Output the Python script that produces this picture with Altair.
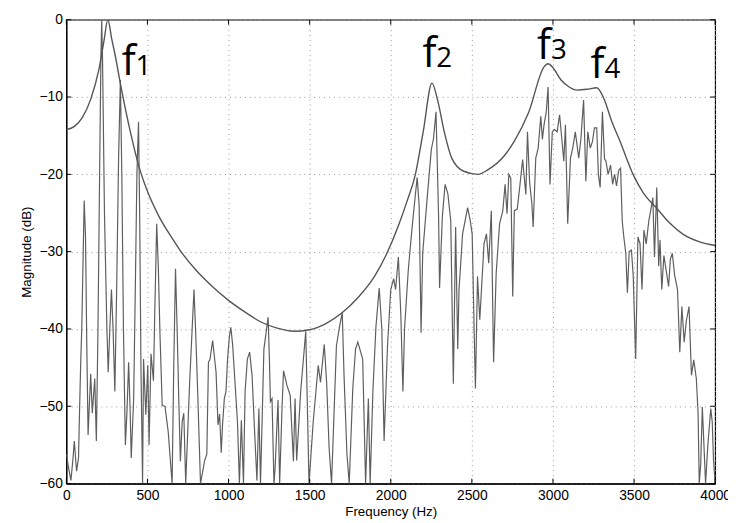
import altair as alt
import pandas as pd

# ---- harmonic spectrum (Hz, dB) ----
spec_f = [0, 14, 28, 40, 49, 63, 75, 82, 89, 95, 110, 118, 126, 134, 150, 160, 175, 185, 195, 205,
          213, 218, 223, 235, 250, 258, 268, 278, 288, 299, 310, 322, 333, 342, 352, 364, 374, 384, 394, 400,
          415, 425, 435, 445, 452, 460, 470, 476, 490, 502, 510, 522, 537, 545, 557, 567, 577, 591, 608, 628,
          652, 662, 673, 683, 693, 703, 714, 724, 736, 760, 787, 800, 811, 827, 852, 866, 876, 885, 902, 923,
          935, 945, 955, 963, 974, 984, 994, 1005, 1014, 1025, 1040, 1055, 1067, 1079, 1092, 1102, 1116, 1130, 1145, 1160,
          1175, 1187, 1197, 1218, 1244, 1252, 1258, 1268, 1280, 1287, 1305, 1315, 1330, 1339, 1360, 1380, 1400, 1410, 1420, 1445,
          1476, 1486, 1496, 1522, 1553, 1567, 1590, 1605, 1620, 1635, 1665, 1685, 1701, 1712, 1730, 1744, 1766, 1783, 1797, 1827,
          1845, 1862, 1873, 1890, 1909, 1929, 1945, 1959, 1980, 2000, 2018, 2030, 2047, 2062, 2075, 2085, 2108, 2132, 2150, 2163,
          2175, 2187, 2197, 2224, 2250, 2264, 2279, 2295, 2301, 2318, 2335, 2352, 2370, 2386, 2400, 2413, 2421, 2443, 2474, 2490,
          2502, 2514, 2522, 2535, 2549, 2575, 2590, 2604, 2620, 2634, 2650, 2671, 2691, 2705, 2717, 2728, 2740, 2752, 2762, 2780,
          2797, 2813, 2833, 2843, 2856, 2870, 2878, 2894, 2909, 2925, 2935, 2945, 2959, 2970, 2982, 2996, 3010, 3026, 3041, 3055,
          3067, 3077, 3091, 3108, 3122, 3138, 3159, 3172, 3189, 3203, 3215, 3230, 3243, 3256, 3270, 3280, 3291, 3305, 3318, 3327,
          3340, 3355, 3368, 3380, 3392, 3405, 3417, 3427, 3437, 3449, 3459, 3470, 3484, 3495, 3510, 3524, 3537, 3549, 3561, 3575,
          3591, 3606, 3616, 3626, 3640, 3652, 3660, 3671, 3684, 3695, 3713, 3724, 3736, 3750, 3768, 3782, 3795, 3809, 3822, 3839,
          3854, 3868, 3884, 3895, 3902, 3911, 3921, 3941, 3955, 3973, 3982, 3990, 4000]
spec_db = [-56.2, -58, -59.6, -57, -54.5, -58.4, -56.7, -50, -44, -40, -23.4, -28, -42, -53.7, -45.8, -50.9, -46.4, -54.5, -40, -20,
           -5, 0, -5, -25, -40, -45.6, -40, -34.9, -40, -48.1, -35, -18, -7.8, -20, -40, -55, -50.5, -44.3, -51.1, -56.7,
           -49, -35, -20, -13.2, -25, -45, -60, -43.9, -51.1, -44.7, -55, -43.2, -46.7, -38, -26.4, -32, -40.5, -49.9, -50, -53.3,
           -60, -45, -32.2, -40, -49, -57.1, -52, -50.9, -60, -47, -34.9, -42, -49, -60, -57.1, -56.2, -44.3, -44, -41.5, -45.6,
           -52.4, -51, -56, -52.4, -49, -48.1, -43.9, -41, -39.8, -42, -47, -52, -60, -51.8, -60, -48.1, -43.9, -43, -46, -53,
           -59.6, -50.3, -60, -42.6, -38.5, -44, -49.4, -49, -60, -58, -49.2, -60, -50, -45.4, -47.3, -48.6, -57.1, -49, -57, -48,
           -40.3, -50, -60, -52, -44.7, -46.9, -42, -47, -55.4, -60, -42.2, -39.6, -37.9, -46, -56.2, -60, -47.7, -42.6, -41.7, -43.9,
           -60, -49, -60, -48, -39.6, -34.7, -40, -54.5, -42.2, -34.9, -33.5, -34.9, -30.7, -38, -48.1, -40, -32.4, -26.8, -23, -20.4,
           -24, -40.5, -30.2, -23.2, -16.8, -15.3, -11.9, -25.5, -34.7, -25.5, -21.3, -22.5, -26, -47.1, -26.8, -42.6, -34.9, -27.7, -24.3, -26,
           -27.7, -40, -47.7, -33.2, -38.8, -29, -27.7, -31.5, -24.7, -44.3, -32.8, -26.4, -24.7, -21.3, -25.1, -20, -20.5, -35.8, -24.7, -24.5,
           -21.3, -18.1, -22.6, -14.5, -21, -23.8, -26.8, -17.9, -16.6, -12.5, -15.5, -13.6, -11.9, -8.7, -21.3, -14.5, -14.2, -14.5, -12.3, -15.5,
           -18.3, -13.6, -26.4, -17.9, -16.6, -14.5, -17.9, -15.5, -10.4, -20.9, -14.5, -16.6, -15.8, -14, -14, -20, -21.7, -11.9, -18, -18.3,
           -20, -18.8, -21.3, -20, -21.5, -19.5, -19.2, -26, -28.1, -30.2, -35.3, -30, -29.8, -33.2, -43.9, -28.1, -29, -34.9, -27.2, -29,
           -26, -24.3, -23, -30.7, -21.7, -31.9, -28.5, -34.9, -30.5, -32, -34.5, -31, -30.2, -33, -34.9, -43, -37.1, -41.7, -39, -37.1,
           -46, -44, -46.4, -51, -60, -57.5, -50.1, -60, -55, -50.3, -52, -57, -60]

# ---- spectral envelope (Hz, dB) ----
env_f = [0, 50, 100, 150, 200, 230, 256, 280, 300, 340, 400, 445, 500, 570, 650, 700, 800, 900, 1000, 1100,
         1200, 1300, 1400, 1500, 1600, 1700, 1800, 1900, 1970, 2050, 2100, 2152, 2200, 2254, 2290, 2330, 2376, 2450, 2538, 2600,
         2700, 2762, 2850, 2945, 2970, 3000, 3050, 3100, 3148, 3210, 3270, 3320, 3360, 3413, 3494, 3560, 3636, 3720, 3799, 3900, 4000]
env_db = [-14.2, -13.8, -12.6, -10.3, -6.5, -3, 0, -2.5, -4.5, -9, -15, -18.8, -22.2, -25.4, -28.2, -29.8, -32.4, -34.5, -36.3, -37.8,
          -39.1, -39.9, -40.3, -40.1, -39.3, -37.9, -35.9, -33.2, -30.5, -26.5, -23.5, -20, -14.5, -8.2, -10.5, -14.5, -17.9, -19.6, -20, -19.4,
          -17.6, -15.7, -12, -6.1, -5.7, -6.2, -7.8, -8.7, -9.1, -9, -8.8, -10.5, -13, -15.7, -20, -22.5, -24.3, -26.3, -27.7, -28.7, -29.2]

# ---- formant annotations ----
ann_digit = ["1", "2", "3", "4"]
ann_f = [341, 2195, 2902, 3232]
ann_db = [-7.2, -6.1, -5.1, -7.5]

x_ticks = [0, 500, 1000, 1500, 2000, 2500, 3000, 3500, 4000]
y_ticks = [0, -10, -20, -30, -40, -50, -60]

W, H = 656, 469

spec = pd.DataFrame({"f": spec_f, "db": spec_db})
env = pd.DataFrame({"f": env_f, "db": env_db})
ann = pd.DataFrame({"f": ann_f, "db": ann_db, "d": ann_digit, "letter": ["f"] * 4})
xt = pd.DataFrame({"f": x_ticks})
yt = pd.DataFrame({"db": y_ticks})

xs = alt.Scale(domain=[0, 4000], nice=False, zero=False)
ys = alt.Scale(domain=[-60, 0], nice=False, zero=False)

grid_dash = [1, 4]
xaxis = alt.Axis(values=x_ticks, format="d", title="Frequency (Hz)", ticks=False, grid=True,
                 gridColor="#9a9a9a", gridDash=grid_dash, gridWidth=1,
                 labelFlush=False, labelOverlap=False, labelPadding=5, titlePadding=2,
                 domainColor="black")
yaxis = alt.Axis(values=y_ticks, format="d", title="Magnitude (dB)", ticks=False, grid=True,
                 gridColor="#9a9a9a", gridDash=grid_dash, gridWidth=1,
                 labelOverlap=False, labelPadding=4, titlePadding=5,
                 domainColor="black")

spec_line = alt.Chart(spec).mark_line(color="#5e5e5e", strokeWidth=1.2, clip=True).encode(
    x=alt.X("f:Q", scale=xs, axis=xaxis),
    y=alt.Y("db:Q", scale=ys, axis=yaxis),
)
env_line = alt.Chart(env).mark_line(color="#555555", strokeWidth=1.4, clip=True,
                                    interpolate="monotone").encode(
    x=alt.X("f:Q", scale=xs),
    y=alt.Y("db:Q", scale=ys),
)

letters = alt.Chart(ann).mark_text(font="Open Sans", fontSize=42, align="left", baseline="alphabetic",
                                    color="black").encode(
    x=alt.X("f:Q", scale=xs), y=alt.Y("db:Q", scale=ys), text="letter:N")
digits = alt.Chart(ann).mark_text(font="Open Sans", fontSize=28, align="left", baseline="alphabetic",
                                   color="black", dx=14).encode(
    x=alt.X("f:Q", scale=xs), y=alt.Y("db:Q", scale=ys), text="d:N")

tick_len = 5
tb = alt.Chart(xt).mark_rule(color="black", strokeWidth=1).encode(
    x=alt.X("f:Q", scale=xs), y=alt.value(H), y2=alt.value(H - tick_len))
tt = alt.Chart(xt).mark_rule(color="black", strokeWidth=1).encode(
    x=alt.X("f:Q", scale=xs), y=alt.value(0), y2=alt.value(tick_len))
tl = alt.Chart(yt).mark_rule(color="black", strokeWidth=1).encode(
    y=alt.Y("db:Q", scale=ys), x=alt.value(0), x2=alt.value(tick_len))
tr = alt.Chart(yt).mark_rule(color="black", strokeWidth=1).encode(
    y=alt.Y("db:Q", scale=ys), x=alt.value(W), x2=alt.value(W - tick_len))

chart = alt.layer(spec_line, env_line, letters, digits, tb, tt, tl, tr).properties(
    width=W, height=H,
    background="white",
    autosize=alt.AutoSizeParams(type="none"),
    padding={"left": 59, "top": 9, "right": 13, "bottom": 36},
).configure_view(stroke="black", strokeWidth=1.2).configure_axis(
    labelFont="Liberation Sans", labelFontSize=14, labelColor="black",
    titleFont="Liberation Sans", titleFontSize=13.5, titleFontWeight="normal", titleColor="black",
    domainWidth=1.2,
)

chart.save("out.html", embed_options={"renderer": "svg", "actions": False})
